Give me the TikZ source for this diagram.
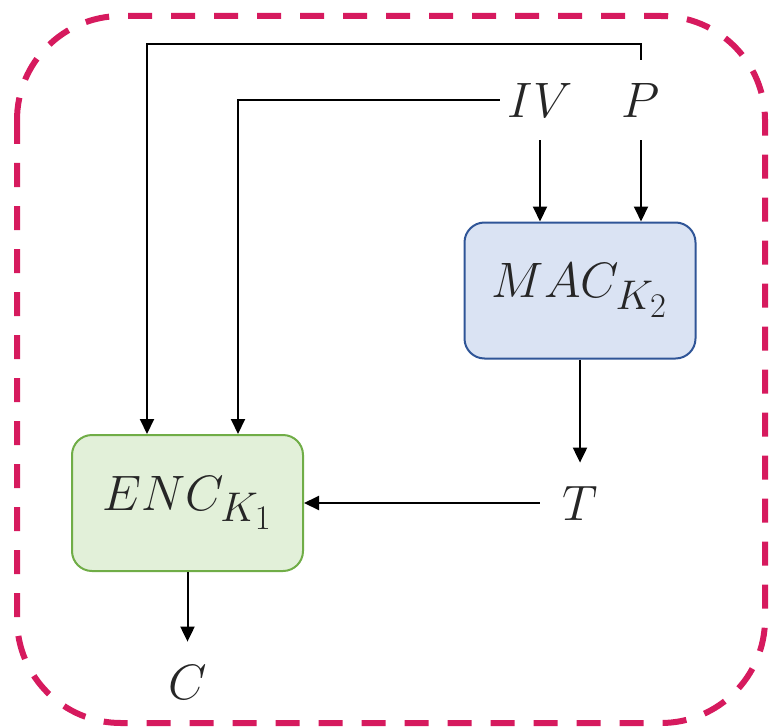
\documentclass[tikz,border=0pt]{standalone}
\usetikzlibrary{arrows.meta}
\definecolor{frame}{RGB}{214,26,94}
\definecolor{macfill}{HTML}{DAE3F3}
\definecolor{macline}{HTML}{2F5597}
\definecolor{encfill}{HTML}{E2F0D9}
\definecolor{encline}{HTML}{70AD47}
\definecolor{ink}{HTML}{262626}
\begin{document}
\begin{tikzpicture}[x=0.5pt, y=-0.5pt,
    every node/.style={font=\Huge, text=ink},
    lbl/.style={minimum size=40pt, inner sep=0pt},
    blk/.style={draw, line width=1pt, rounded corners=10pt, minimum width=115.5pt, minimum height=68pt},
    arr/.style={line width=1pt, -{Triangle[width=7pt,length=7.5pt]}}]
  \useasboundingbox (0,0) rectangle (774,727);
  \draw[frame, line width=3pt, dash pattern=on 12pt off 9.5pt, rounded corners=52pt] (17,16) rectangle (765,723);
  % blocks
  \node[blk, fill=macfill, draw=macline] (mac) at (580,290.5) {$MAC_{K_2}$};
  \node[blk, fill=encfill, draw=encline] (enc) at (187.5,503) {$ENC_{K_1}$};
  % inputs and outputs
  \node[lbl] (iv) at (540,100) {$IV$};
  \node[lbl] (p) at (641,100) {$P$};
  \node[lbl] (t) at (580,503) {$T$};
  \node[lbl] (c) at (187.5,682) {$C$};
  % connectors
  \draw[arr] (iv.south) -- (iv.south |- mac.north);
  \draw[arr] (p.south) -- (p.south |- mac.north);
  \draw[arr] (p.north) -- ++(0,-16) -| ([xshift=-20.25pt]enc.north);
  \draw[arr] (iv.west) -| ([xshift=25.25pt]enc.north);
  \draw[arr] (mac.south) -- (t.north);
  \draw[arr] (t.west) -- (enc.east);
  \draw[arr] (enc.south) -- (c.north);
\end{tikzpicture}
\end{document}
